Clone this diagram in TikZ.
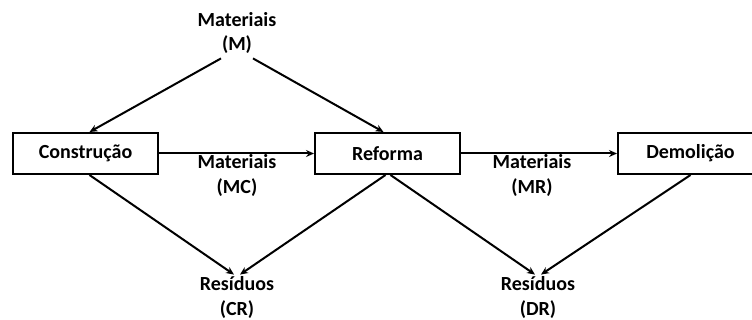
\documentclass[tikz,border=0pt]{standalone}
\usepackage{fontspec}
\setmainfont{Carlito}
\usetikzlibrary{arrows.meta}

\begin{document}
\begin{tikzpicture}[x=0.5pt,y=-0.5pt,font=\bfseries\fontsize{10pt}{12.5pt}\selectfont,
	etapa/.style={draw,line width=1pt,minimum width=72.5pt,minimum height=20.5pt,inner sep=0pt},
	rotulo/.style={align=center,inner sep=0pt},
	fluxo/.style={line width=1pt,-{Stealth[length=4pt,width=3.5pt]}}]
	% Page size
	\useasboundingbox (0,0) rectangle (752,320);
	% Stages
	\node[etapa] (cons) at (85.5,153.5) {Construção};
	\node[etapa] (ref) at (387.5,153.5) {Reforma};
	\node[etapa] (dem) at (690.5,153.5) {Demolição};
	% Labels
	\node[rotulo] (mat) at (237,33) {Materiais\\(M)};
	\node[rotulo] (mc) at (237,176) {Materiais\\(MC)};
	\node[rotulo] (mr) at (532,176) {Materiais\\(MR)};
	\node[rotulo] (cr) at (237,298) {Resíduos\\(CR)};
	\node[rotulo] (dr) at (538,298) {Resíduos\\(DR)};
	% Input of materials
	\draw[fluxo] ([xshift=-8pt,yshift=-2pt]mat.south) -- ([xshift=2pt]cons.north);
	\draw[fluxo] ([xshift=8pt,yshift=-2pt]mat.south) -- ([xshift=-2pt]ref.north);
	% Materials between stages
	\draw[fluxo] (cons.east) -- (ref.west);
	\draw[fluxo] (ref.east) -- (dem.west);
	% Residues
	\draw[fluxo] ([xshift=2pt]cons.south) -- ([xshift=-1.5pt,yshift=1pt]cr.north);
	\draw[fluxo] ([xshift=-1pt]ref.south) -- ([xshift=1.5pt,yshift=1pt]cr.north);
	\draw[fluxo] ([xshift=1.5pt]ref.south) -- ([xshift=-1.5pt,yshift=1pt]dr.north);
	\draw[fluxo] ([xshift=0pt]dem.south) -- ([xshift=1.5pt,yshift=1pt]dr.north);
\end{tikzpicture}
\end{document}
